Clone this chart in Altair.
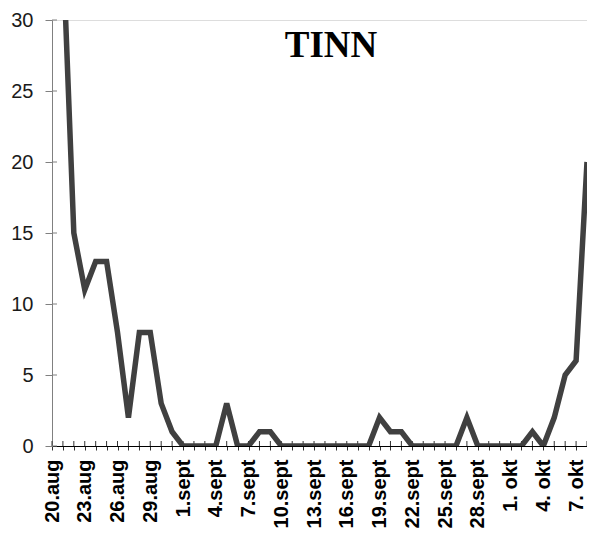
import altair as alt
import pandas as pd

# ---- data ----
dates = (
    [f"{d}.aug" for d in range(20, 32)]
    + [f"{d}.sept" for d in range(1, 31)]
    + [f"{d}. okt" for d in range(1, 9)]
)
values = [
    40, 35, 15, 11, 13, 13, 8, 2, 8, 8, 3, 1,          # 20.aug - 31.aug
    0, 0, 0, 0, 3, 0, 0, 1, 1, 0,                      # 1.sept - 10.sept
    0, 0, 0, 0, 0, 0, 0, 0, 2, 1,                      # 11.sept - 20.sept
    1, 0, 0, 0, 0, 0, 2, 0, 0, 0,                      # 21.sept - 30.sept
    0, 0, 1, 0, 2, 5, 6, 20,                           # 1. okt - 8. okt
]
shown_labels = dates[::3]
y_ticks = [0, 5, 10, 15, 20, 25, 30]
title_text = ["TINN"]

W, H = 535, 426

df = pd.DataFrame({"date": dates, "value": values})
ticks_df = pd.DataFrame({"v": y_ticks})
title_df = pd.DataFrame({"t": title_text})

label_list = ",".join(f"'{s}'" for s in shown_labels)

x_scale = alt.Scale(type="point", padding=0, domain=dates)
y_scale = alt.Scale(domain=[0, 30], nice=False, zero=True)

x_axis = alt.Axis(
    title=None,
    labelExpr=f"indexof([{label_list}], datum.value) >= 0 ? datum.value : ''",
    labelAngle=-90,
    labelFont="Liberation Sans",
    labelFontWeight="bold",
    labelFontSize=20,
    labelColor="#000000",
    labelPadding=9,
    labelOverlap=False,
    tickSize=4,
    tickColor="#333333",
    tickWidth=1,
    domainColor="#000000",
    domainWidth=1,
    grid=False,
)
y_axis = alt.Axis(
    title=None,
    values=y_ticks,
    labelFont="Liberation Sans",
    labelFontSize=20,
    labelColor="#1a1a1a",
    labelPadding=12,
    tickSize=7,
    tickColor="#808080",
    domainColor="#808080",
    grid=False,
)

line = alt.Chart(df).mark_line(color="#404040", strokeWidth=5.5, clip=True, strokeJoin="miter").encode(
    x=alt.X("date:N", scale=x_scale, axis=x_axis, sort=dates),
    y=alt.Y("value:Q", scale=y_scale, axis=y_axis),
)

x_inner_ticks = alt.Chart(df).mark_rule(color="#333333", strokeWidth=1).encode(
    x=alt.X("date:N", scale=x_scale, sort=dates),
    y=alt.value(H),
    y2=alt.value(H - 5),
)

y_inner_ticks = alt.Chart(ticks_df).mark_rule(color="#808080", strokeWidth=1).encode(
    y=alt.Y("v:Q", scale=y_scale),
    x=alt.value(0),
    x2=alt.value(5),
)

title = alt.Chart(title_df).mark_text(
    font="Liberation Serif", fontWeight="bold", fontSize=37,
    align="center", baseline="alphabetic", color="#000000",
).encode(
    text="t:N",
    x=alt.value(279),
    y=alt.value(37),
)

chart = alt.layer(x_inner_ticks, y_inner_ticks, line, title).properties(
    width=W,
    height=H,
    autosize=alt.AutoSizeParams(type="none"),
    padding={"left": 44, "top": 12, "right": 0, "bottom": 82},
).configure_view(stroke=None).configure(background="#ffffff")

chart.save("out.html", embed_options={"renderer": "svg", "actions": False})
